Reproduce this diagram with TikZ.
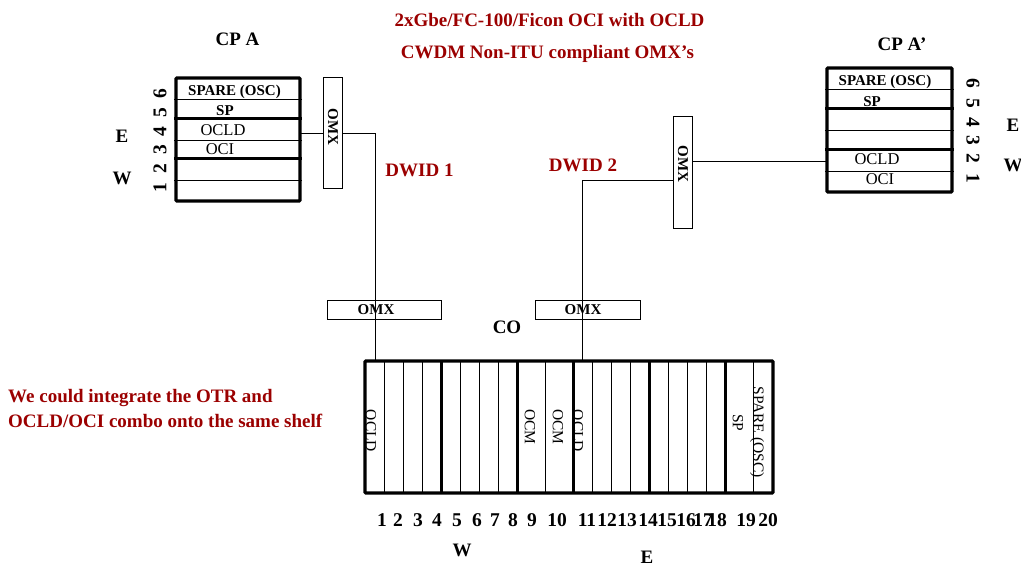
\documentclass[tikz,border=0pt]{standalone}
\usepackage{fontspec}
\setmainfont{Liberation Serif}
\definecolor{dred}{RGB}{155,0,0}
\begin{document}
\begin{tikzpicture}[x=1pt,y=-1pt,
  lbl/.style={font=\fontsize{19}{21}\selectfont\bfseries, inner sep=0},
  redlbl/.style={lbl, text=dred},
  numlbl/.style={font=\fontsize{19.5}{22}\selectfont\bfseries, inner sep=0},
  slotlbl/.style={font=\fontsize{15.5}{17}\selectfont, inner sep=0},
  rowlbl/.style={font=\fontsize{16.5}{18}\selectfont, inner sep=0},
  slotbold/.style={font=\fontsize{15}{17}\selectfont\bfseries, inner sep=0},
  shelf/.style={draw, line width=3.2pt, rectangle, inner sep=0, rounded corners=1pt},
  omxbox/.style={draw, line width=0.9pt, rectangle, inner sep=0},
  thinl/.style={line width=0.9pt},
  thickl/.style={line width=3pt},
  conn/.style={line width=1pt}
]
\useasboundingbox (0,0) rectangle (1021,567);

% titles
\node[redlbl] (t1) at (549.5,20) {2xGbe/FC-100/Ficon OCI with OCLD};
\node[redlbl] (t2) at (547.5,54) {CWDM Non-ITU compliant OMX’s};

% ---------- CP A shelf ----------
\node[lbl] (cpa) at (237.5,39) {CP A};
\node[shelf, minimum width=124, minimum height=123] (shelfA) at (238,139.5) {};
\draw[thinl]  (shelfA.west |- 0,99)  -- (shelfA.east |- 0,99);
\draw[thickl] (shelfA.west |- 0,119) -- (shelfA.east |- 0,119);
\draw[thinl]  (shelfA.west |- 0,140) -- (shelfA.east |- 0,140);
\draw[thickl] (shelfA.west |- 0,159) -- (shelfA.east |- 0,159);
\draw[thinl]  (shelfA.west |- 0,180) -- (shelfA.east |- 0,180);
\node[slotbold] (a6) at (234.5,92) {SPARE (OSC)};
\node[slotbold] (a5) at (225,111) {SP};
\node[rowlbl] (a4) at (223,130) {OCLD};
\node[rowlbl] (a3) at (220,149) {OCI};
\foreach \d/\y in {1/188,2/169,3/150,4/132,5/113,6/94}
  \node[numlbl, rotate=90] (an\d) at (160,\y) {\d};
\node[lbl] (aE) at (122,136) {E};
\node[lbl] (aW) at (122,178) {W};

% ---------- CP A' shelf ----------
\node[lbl] (cpb) at (902,44) {CP A’};
\node[shelf, minimum width=125, minimum height=124] (shelfB) at (889.5,130) {};
\draw[thinl]  (shelfB.west |- 0,89)  -- (shelfB.east |- 0,89);
\draw[thickl] (shelfB.west |- 0,109) -- (shelfB.east |- 0,109);
\draw[thinl]  (shelfB.west |- 0,130) -- (shelfB.east |- 0,130);
\draw[thickl] (shelfB.west |- 0,150) -- (shelfB.east |- 0,150);
\draw[thinl]  (shelfB.west |- 0,171) -- (shelfB.east |- 0,171);
\node[slotbold] (b6) at (885,82) {SPARE (OSC)};
\node[slotbold] (b5) at (872,102) {SP};
\node[rowlbl] (b2) at (877,159) {OCLD};
\node[rowlbl] (b1) at (880,179) {OCI};
\foreach \d/\y in {6/83,5/103,4/122,3/140,2/158,1/178}
  \node[numlbl, rotate=-90] (bn\d) at (973,\y) {\d};
\node[lbl] (bE) at (1013,125) {E};
\node[lbl] (bW) at (1013,165) {W};

% ---------- OMX boxes ----------
\node[omxbox, minimum width=19, minimum height=111] (omxA) at (332.5,132.5) {};
\node[slotbold, rotate=-90] (omxAt) at (333,127) {OMX};
\node[omxbox, minimum width=19, minimum height=112] (omxR) at (682.5,172) {};
\node[slotbold, rotate=-90] (omxRt) at (683,164) {OMX};
\node[omxbox, minimum width=114, minimum height=19] (omxB1) at (384,309.5) {};
\node[slotbold] (omxB1t) at (376,310) {OMX};
\node[omxbox, minimum width=105, minimum height=19] (omxB2) at (587.5,309.5) {};
\node[slotbold] (omxB2t) at (583,310) {OMX};

% labels
\node[redlbl] (dw1) at (419.5,170) {DWID 1};
\node[redlbl] (dw2) at (583,165) {DWID 2};
\node[lbl] (co) at (507,327) {CO};
\node[redlbl, anchor=west] (n1) at (8,398) {We could integrate the OTR and};
\node[redlbl, anchor=west] (n2) at (8,421) {OCLD/OCI combo onto the same shelf};

% ---------- CO shelf ----------
\node[shelf, minimum width=408, minimum height=132] (coShelf) at (569,427) {};
\foreach \x in {384,403,422,460,479,498,545,592,611,630,668,687,706,753}
  \draw[thinl] (\x,361) -- (\x,493);
\foreach \x in {441,517,573,649,725}
  \draw[thickl] (\x,361) -- (\x,493);
\node[slotlbl, rotate=-90] (c1)  at (371,431) {OCLD};
\node[slotlbl, rotate=-90] (c9)  at (530,427) {OCM};
\node[slotlbl, rotate=-90] (c10) at (558,427) {OCM};
\node[slotlbl, rotate=-90] (c11) at (578,431) {OCLD};
\node[slotlbl, rotate=-90] (c19) at (738,423) {SP};
\node[slotlbl, rotate=-90] (c20) at (757,432) {SPARE (OSC)};
\foreach \d/\x in {1/382,2/398,3/418,4/437,5/457,6/477,7/495,8/513,9/532,10/557,11/587,12/607,13/627,14/648,15/667,16/686,17/703,18/717,19/746,20/768}
  \node[numlbl] (cn\d) at (\x,520) {\d};
\node[lbl] (cW) at (462,550) {W};
\node[lbl] (cE) at (647,557) {E};

% ---------- connectors ----------
\coordinate (pA) at (300,134);
\coordinate (cA) at (375,361);
\coordinate (pB) at (827,162);
\coordinate (qB) at (673,181);
\coordinate (cB) at (582,361);
\draw[conn] (pA) -- (pA -| omxA.west);
\draw[conn] (omxA.east |- pA) -| (cA);
\draw[conn] (pB) -- (pB -| omxR.east);
\draw[conn] (qB) -| (cB);
\end{tikzpicture}
\end{document}
